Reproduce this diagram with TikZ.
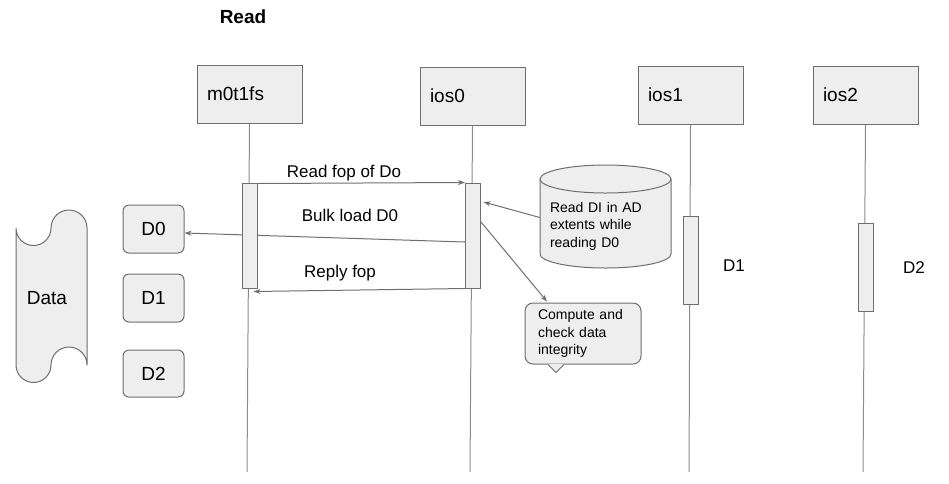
\documentclass[tikz,border=0pt]{standalone}
\usepackage{fontspec}
\setmainfont{Liberation Sans}
\usetikzlibrary{positioning}
\usetikzlibrary{arrows.meta}
\usetikzlibrary{backgrounds}
\definecolor{boxfill}{HTML}{EEEEEE}
\definecolor{boxline}{HTML}{6E6E6E}
\definecolor{lifegray}{HTML}{8C8C8C}
\tikzset{
    headnode/.style = {rectangle, draw=boxline, line width=1pt, fill=boxfill, minimum width=105pt, minimum height=58pt, inner xsep=10pt, text width=85pt, align=left, font=\fontsize{19}{22}\selectfont},
    barnode/.style = {rectangle, draw=boxline, line width=1pt, fill=boxfill, minimum width=15pt, inner sep=0pt},
    dnode/.style = {rectangle, rounded corners=6pt, draw=boxline, line width=1pt, fill=boxfill, minimum width=61pt, minimum height=48pt, font=\fontsize{19}{22}\selectfont},
    notenode/.style = {align=left, font=\fontsize{14}{17.5}\selectfont},
    labnode/.style = {font=\fontsize{17}{20}\selectfont},
    edgel/.style = {-, line width=1pt, lifegray}, % lifeline
    edgea/.style = {-{Stealth[length=7pt,width=5pt]}, line width=1pt, boxline}, % message
    shapeb/.style = {draw=boxline, line width=1pt, fill=boxfill}
}
\begin{document}
\begin{tikzpicture}[x=1pt, y=-1pt]
  \useasboundingbox (0,0) rectangle (949,483);

  \node[font=\fontsize{19}{22}\selectfont\bfseries] (title) at (243,17) {Read};

  % heads
  \node[headnode] (m0) at (249.5,94) {m0t1fs};
  \node[headnode] (io0) at (472.5,96) {ios0};
  \node[headnode] (io1) at (690.5,95) {ios1};
  \node[headnode] (io2) at (865.5,95) {ios2};

  % activation bars
  \node[barnode, minimum height=105pt] (m0act) at (249.5,235.5) {};
  \node[barnode, minimum height=105pt] (io0act) at (473,235.5) {};
  \node[barnode, minimum height=88pt] (io1act) at (690.5,260) {};
  \node[barnode, minimum height=88pt] (io2act) at (865.5,267) {};

  \coordinate (m0end) at (247,472);
  \coordinate (io0end) at (470,472);
  \coordinate (io1end) at (689,472);
  \coordinate (io2end) at (863,472);

  % data blocks
  \node[dnode] (d0) at (153.5,229) {D0};
  \node[dnode] (d1) at (153.5,298) {D1};
  \node[dnode, minimum height=47pt] (d2) at (153.5,373.5) {D2};

  \filldraw[shapeb] (16,228) arc[start angle=180, end angle=0, radius=17.5]
    arc[start angle=180, end angle=360, radius=18] -- (87,365)
    arc[start angle=0, end angle=-180, radius=18]
    arc[start angle=0, end angle=180, radius=17.5] -- cycle;
  \node[font=\fontsize{19}{22}\selectfont] (data) at (47,298) {Data};

  % disk
  \filldraw[shapeb] (540,179) -- (540,254) arc[start angle=180, end angle=0, x radius=65.5, y radius=14]
    -- (671,179) arc[start angle=0, end angle=-180, x radius=65.5, y radius=14] -- cycle;
  \draw[boxline, line width=1pt] (540,179) arc[start angle=180, end angle=0, x radius=65.5, y radius=14];
  \node[notenode, minimum width=131pt, minimum height=86pt, inner xsep=10pt, text width=111pt] (rdi) at (605.5,226) {Read DI in AD\\extents while\\reading D0};

  % callout
  \node[notenode, draw=boxline, line width=1pt, fill=boxfill, rounded corners=8pt, minimum width=116pt, minimum height=61pt, inner xsep=13pt, text width=90pt] (chk) at (583,333.5) {Compute and\\check data\\integrity};
  \filldraw[shapeb] ([xshift=-35pt]chk.south) -- ([xshift=-27pt,yshift=-8pt]chk.south) -- ([xshift=-19pt]chk.south);
  \fill[boxfill] ([xshift=-34pt,yshift=0.8pt]chk.south) rectangle ([xshift=-20pt,yshift=-0.8pt]chk.south);

  \begin{pgfonlayer}{background}
    \draw[edgel] (m0.south) -- (m0end);
    \draw[edgel] (io0.south) -- (io0end);
    \draw[edgel] (io1.south) -- (io1end);
    \draw[edgel] (io2.south) -- (io2end);
    \draw[edgea] ([yshift=-6.5pt]io0act.west) -- ([yshift=-4pt]d0.east);
  \end{pgfonlayer}

  % messages
  \draw[edgea] ([yshift=-1pt]m0act.north east) -- (io0act.north west);
  \draw[edgea] (io0act.south west) -- ([xshift=-4pt,yshift=-3pt]m0act.south east);
  \draw[edgea] ([yshift=8.5pt]rdi.west) -- ([xshift=2.5pt,yshift=33.5pt]io0act.east);
  \draw[edgea] ([yshift=13.5pt]io0act.east) -- ([xshift=-36pt,yshift=1pt]chk.north);

  \node[labnode] (rdlab) at (344,173) {Read fop of Do};
  \node[labnode] (bulklab) at (350,215) {Bulk load D0};
  \node[labnode] (replylab) at (340,273) {Reply fop};
  \node[labnode] (d1lab) at (734,266) {D1};
  \node[labnode] (d2lab) at (914,268) {D2};
\end{tikzpicture}
\end{document}
